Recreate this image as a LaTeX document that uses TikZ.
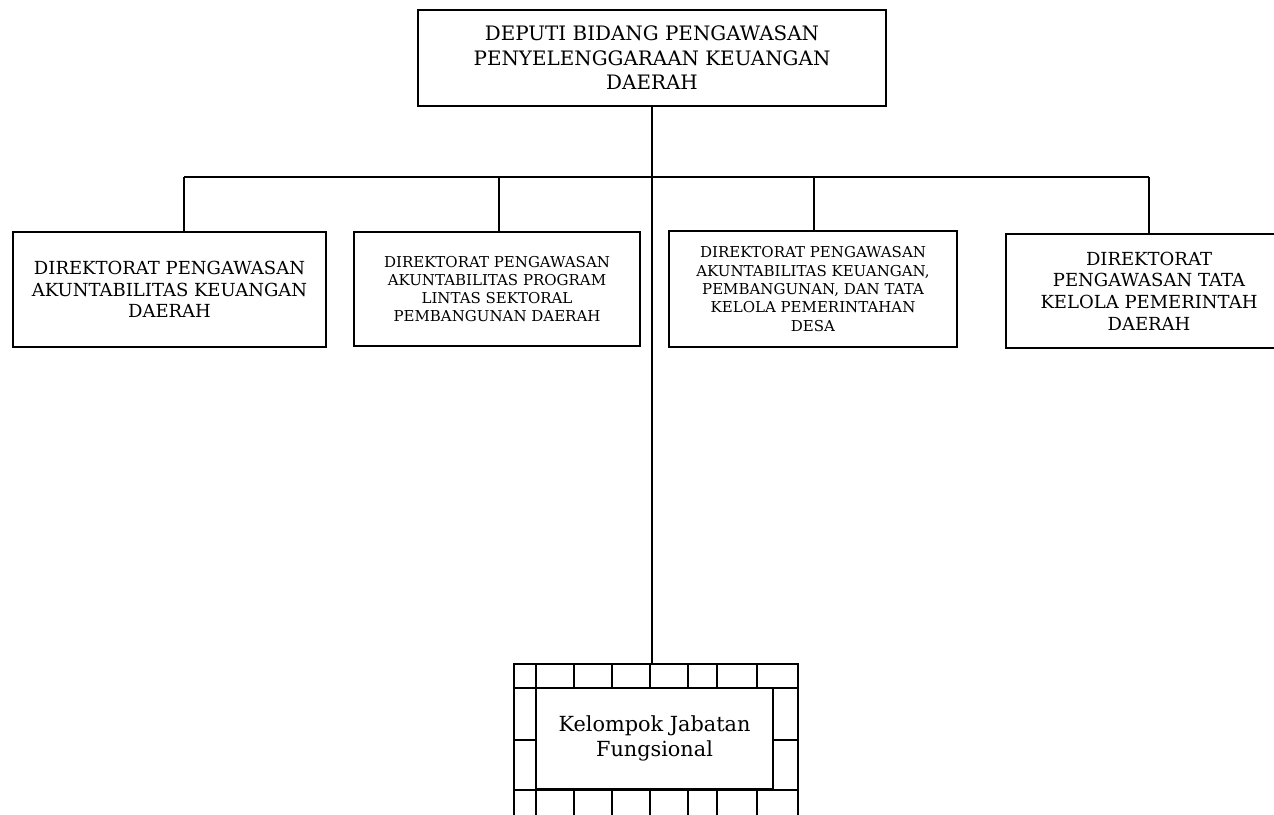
\documentclass[tikz,border=0pt]{standalone}
\usepackage{fontspec}
\setmainfont{DejaVu Serif}
\begin{document}
\begin{tikzpicture}[x=1pt,y=-1pt,
  unit/.style={draw,line width=2.6pt,rectangle,inner sep=0pt,align=center},
  big/.style={font=\fontsize{18.0}{21.6}\selectfont},
  small/.style={font=\fontsize{15.0}{18.3}\selectfont},
  top/.style={font=\fontsize{19.9}{24.5}\selectfont},
  fung/.style={font=\fontsize{20.8}{25}\selectfont},
  conn/.style={line width=1.2pt},
  brick/.style={line width=2pt}]
\useasboundingbox (0,0) rectangle (1274,814);
\clip (0,0) rectangle (1274,814);
% top
\node[unit,top,minimum width=468pt,minimum height=96pt] (dep) at (652,58)
  {DEPUTI BIDANG PENGAWASAN\\PENYELENGGARAAN KEUANGAN\\DAERAH};
% directorates
\node[unit,big,minimum width=313pt,minimum height=115pt] (d1) at (169.5,289.5)
  {DIREKTORAT PENGAWASAN\\AKUNTABILITAS KEUANGAN\\DAERAH};
\node[unit,small,minimum width=286pt,minimum height=114pt] (d2) at (497,289)
  {DIREKTORAT PENGAWASAN\\AKUNTABILITAS PROGRAM\\LINTAS SEKTORAL\\PEMBANGUNAN DAERAH};
\node[unit,small,minimum width=288pt,minimum height=116pt] (d3) at (813,289)
  {DIREKTORAT PENGAWASAN\\AKUNTABILITAS KEUANGAN,\\PEMBANGUNAN, DAN TATA\\KELOLA PEMERINTAHAN\\DESA};
\node[unit,big,minimum width=286pt,minimum height=114pt] (d4) at (1149,291)
  {DIREKTORAT\\PENGAWASAN TATA\\KELOLA PEMERINTAH\\DAERAH};
% functional group
\node[draw,brick,rectangle,inner sep=0pt,align=center,fung,
  minimum width=237pt,minimum height=101pt] (kjf) at (654.5,738.5)
  {Kelompok Jabatan\\Fungsional};
% bus
\coordinate (b1) at (184,177);
\coordinate (b2) at (499,177);
\coordinate (bc) at (652,177);
\coordinate (b3) at (814,177);
\coordinate (b4) at (1149,177);
\draw[conn] (b1) -- (b4);
\draw[conn] (b1) -- (b1 |- d1.north);
\draw[conn] (b2) -- (b2 |- d2.north);
\draw[conn] (b3) -- (b3 |- d3.north);
\draw[conn] (b4) -- (b4 |- d4.north);
\coordinate (kt) at (652,664);
\draw[conn] (dep.south -| bc) -- (kt);
% bricks
\draw[brick] (514,830) -- (514,664) -- (798,664) -- (798,830);
\draw[brick] (514,688) -- (798,688);
\draw[brick] (514,790) -- (798,790);
\draw[brick] (514,740) -- (536,740);
\draw[brick] (773,740) -- (798,740);
\foreach \x in {536,574,612,650,688,717,757}{
  \draw[brick] (\x,664) -- (\x,688);
  \draw[brick] (\x,790) -- (\x,830);
}
\end{tikzpicture}
\end{document}
